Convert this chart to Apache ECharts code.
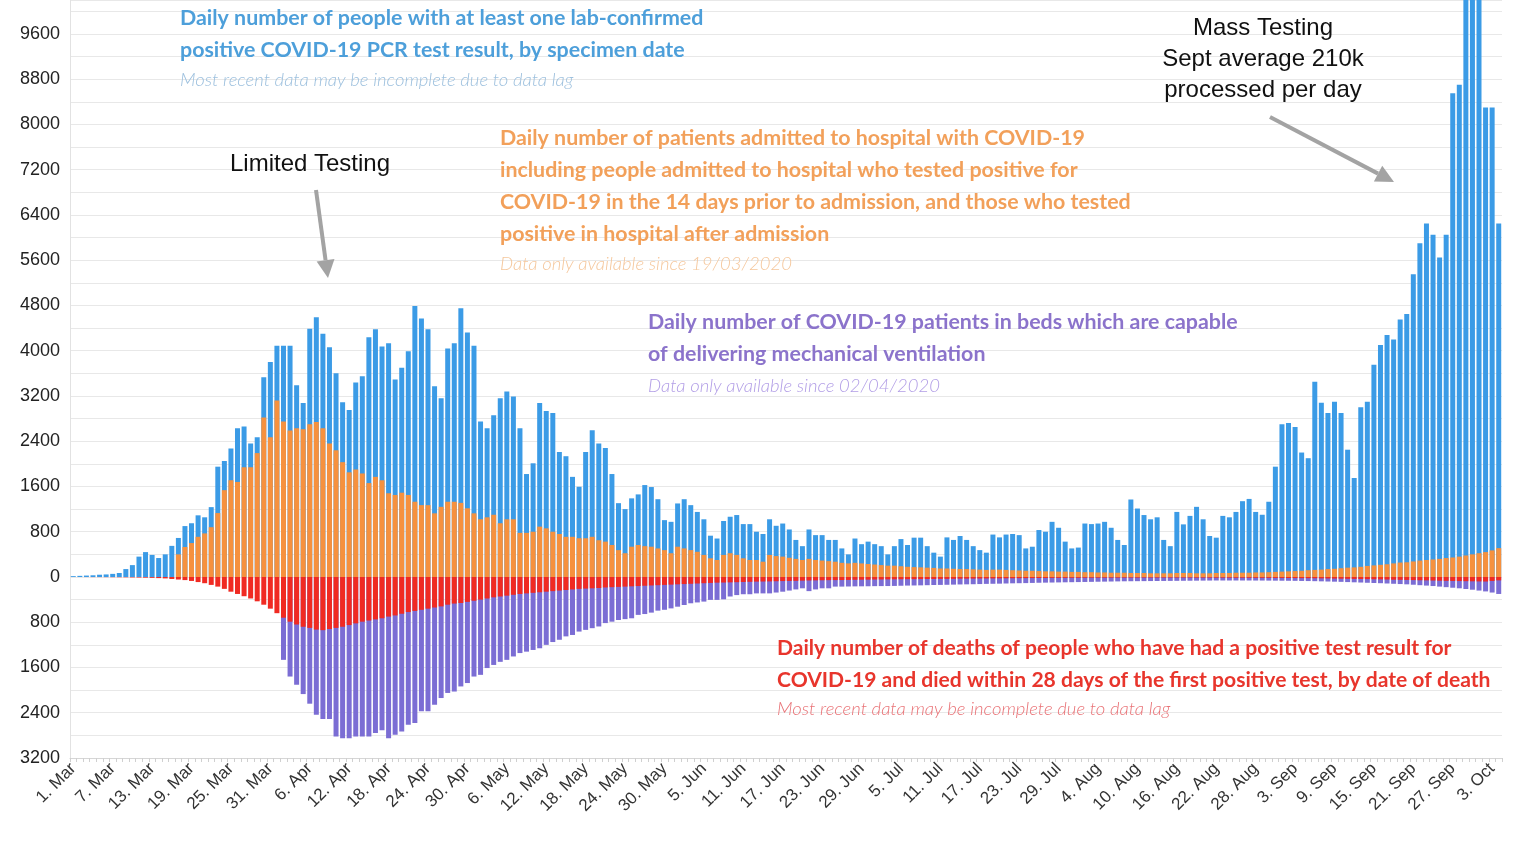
<!DOCTYPE html>
<html><head><meta charset="utf-8">
<script src="https://cdn.jsdelivr.net/npm/echarts@6/dist/echarts.min.js"></script>
<style>html,body{margin:0;padding:0;background:#fff}#c{width:1518px;height:845px}</style>
</head><body><div id="c"></div>
<script>
// ---- categories: daily from 1 Mar 2020 (218 days, to 4 Oct) ----
const startDay = {year: 2020, month: 2, day: 1};
const dayCount = 218;
const monthNames = ['Jan','Feb','Mar','Apr','May','Jun','Jul','Aug','Sep','Oct','Nov','Dec'];
const categories = [];
for (let k = 0; k < dayCount; k++) {
  const d = new Date(Date.UTC(startDay.year, startDay.month, startDay.day + k));
  categories.push(d.getUTCDate() + '. ' + monthNames[d.getUTCMonth()]);
}

// ---- Daily lab-confirmed cases (blue) ----
const cases = [
  15, 20, 25, 30, 40, 45, 55, 70,
  140, 210, 360, 440, 390, 335, 400,
  550, 690, 900, 950, 1090, 1055, 1235,
  1950, 2050, 2270, 2630, 2660, 2360, 2470,
  3530, 3800, 4090, 4090, 4090, 3390, 3075,
  4390, 4590, 4300, 4060, 3600, 3090, 2950,
  3440, 3550, 4240, 4380, 4075, 4130, 3490,
  3700, 3990, 4790, 4570, 4380, 3370, 3160,
  4040, 4130, 4750, 4320, 4090, 2750, 2630,
  2860, 3160, 3280, 3190, 2630, 1820, 2010,
  3075, 2935, 2900, 2210, 2135, 1770, 1595,
  2210, 2595, 2360, 2280, 1820, 1305, 1200,
  1390, 1460, 1625, 1590, 1375, 1005, 975,
  1300, 1375, 1270, 1150, 1020, 730, 680,
  990, 1065, 1095, 935, 935, 800, 760,
  1020, 905, 945, 840, 655, 545, 840,
  740, 740, 655, 655, 505, 400, 680,
  580, 625, 580, 545, 400, 545, 670,
  565, 695, 695, 545, 430, 360, 700,
  655, 725, 655, 545, 475, 430, 750,
  700, 750, 760, 740, 505, 535, 830,
  800, 975, 870, 625, 505, 520, 945,
  935, 945, 975, 870, 655, 565, 1370,
  1210, 1095, 1020, 1055, 655, 545, 1150,
  930, 1080, 1240, 1020, 725, 695, 1080,
  1055, 1150, 1340, 1380, 1150, 1100, 1330,
  1950, 2700, 2720, 2650, 2200, 2100, 3450,
  3080, 2900, 3100, 2900, 2250, 1750, 3000,
  3100, 3750, 4100, 4280, 4200, 4550, 4650,
  5350, 5900, 6250, 6050, 5650, 6050, 8550,
  8700, 10800, 10800, 10800, 8300, 8300, 6250
];

// ---- Daily hospital admissions (orange) ----
const admissions = [
  null, null, null, null, null, null, null, null,
  null, null, null, null, null, null, null, null,
  400, 530, 600, 710, 770, 880,
  1130, 1535, 1710, 1680, 1940, 1940, 2190,
  2820, 2470, 3120, 2750, 2590, 2630, 2610,
  2700, 2740, 2630, 2360, 2240, 2030, 1850,
  1900, 1830, 1660, 1770, 1710, 1480, 1450,
  1490, 1450, 1330, 1270, 1270, 1125, 1240,
  1330, 1330, 1310, 1215, 1125, 1020, 1055,
  1100, 950, 1020, 1020, 780, 780, 800,
  890, 860, 800, 760, 710, 710, 685,
  685, 710, 650, 625, 565, 475, 420,
  535, 565, 545, 535, 505, 475, 420,
  535, 505, 475, 445, 390, 330, 300,
  390, 420, 390, 330, 300, 300, 270,
  390, 370, 360, 340, 320, 300, 320,
  300, 290, 280, 270, 250, 240, 250,
  240, 230, 220, 210, 200, 200, 190,
  180, 175, 170, 165, 160, 150, 150,
  145, 140, 140, 135, 130, 125, 130,
  130, 125, 120, 115, 110, 110, 105,
  100, 100, 95, 95, 90, 90, 85,
  85, 80, 80, 75, 75, 75, 70,
  70, 70, 65, 65, 65, 65, 70,
  70, 70, 65, 65, 65, 70, 70,
  70, 75, 75, 75, 80, 80, 85,
  90, 95, 100, 105, 110, 120, 125,
  130, 140, 145, 155, 165, 170, 180,
  195, 205, 215, 225, 240, 255, 260,
  275, 290, 300, 310, 320, 335, 345,
  360, 380, 400, 420, 440, 470, 510
];

// ---- Patients in mechanical-ventilation beds (purple, drawn downward) ----
const ventBeds = [
  null, null, null, null, null, null, null, null,
  null, null, null, null, null, null, null, null,
  null, null, null, null, null, null, null, null,
  null, null, null, null, null, null, null, null,
  1465, 1760, 1905, 2070, 2240, 2435, 2510,
  2510, 2820, 2850, 2850, 2820, 2820, 2820,
  2760, 2710, 2850, 2790, 2730, 2610, 2580,
  2375, 2375, 2260, 2140, 2050, 2025, 1935,
  1875, 1760, 1730, 1610, 1555, 1500, 1465,
  1405, 1345, 1320, 1290, 1260, 1200, 1150,
  1110, 1050, 1025, 965, 935, 905, 875,
  815, 790, 760, 745, 730, 670, 655,
  630, 595, 580, 555, 525, 495, 465,
  450, 435, 405, 405, 395, 345, 320,
  305, 305, 290, 290, 290, 275, 260,
  240, 220, 200, 250, 220, 200, 200,
  170, 170, 168, 166, 165, 164, 162, 161,
  160, 158, 155, 152, 150, 148, 145, 142, 140, 138, 135, 132, 130, 128, 125, 122,
  120, 118, 115, 112, 110, 108, 105, 102, 100, 98, 96, 94, 92, 90, 88, 86, 84, 82, 80, 78,
  76, 75, 74, 73, 72, 71, 70, 69, 68, 67, 66, 65, 64, 63, 62, 62, 62, 62, 62, 62, 63, 63, 64,
  65, 66, 67, 68, 70, 72, 74, 77, 80, 83,
  86, 90, 94, 98, 102, 106, 110, 115, 120, 125,
  130, 137, 145, 152, 160, 170, 180, 190, 200, 212,
  225, 240, 255, 275, 300
];

// ---- Deaths within 28 days (red, drawn downward) ----
const deaths = [
  0, 0, 1, 2, 2, 3, 4, 5, 6, 8,
  10, 12, 15, 20, 25,
  35, 45, 55, 70, 90, 110, 140,
  170, 210, 260, 300, 340, 380, 430,
  490, 560, 640, 720, 790, 840, 880,
  900, 930, 940, 920, 900, 880, 850,
  820, 790, 770, 750, 730, 700, 680,
  650, 620, 600, 580, 560, 540, 520,
  490, 470, 460, 440, 420, 400, 380,
  360, 345, 330, 315, 300, 290, 280,
  270, 260, 250, 240, 230, 220, 210,
  205, 200, 195, 185, 180, 175, 170,
  165, 160, 155, 150, 145, 140, 135,
  130, 125, 120, 115, 110, 105, 100,
  98, 95, 92, 88, 85, 82, 80,
  78, 75, 72, 70, 68, 65, 62,
  60, 58, 56, 55, 54, 52, 50,
  48, 47, 45, 44, 42, 41, 40,
  39, 38, 37, 36, 35, 34, 33,
  32, 30, 29, 28, 27, 26, 25,
  24, 23, 22, 21, 20, 19, 18,
  17, 16, 15, 15, 14, 14, 13,
  13, 12, 12, 12, 11, 11, 11,
  11, 10, 10, 10, 10, 10, 10,
  10, 10, 11, 11, 11, 12, 12,
  12, 13, 13, 14, 14, 15, 15,
  16, 17, 18, 19, 20, 21, 22,
  24, 26, 28, 30, 32, 34, 36,
  38, 40, 42, 45, 48, 50, 52,
  55, 58, 60, 63, 66, 68, 70,
  72, 74, 76, 78, 80, 70, 60
];

const yMin = -3200, yMax = 10200, yStep = 400, yLabelStep = 800;

const COL = {blue:'#3b9be6', orange:'#f6913e', red:'#f02a22', purple:'#7b6dd4'};

function neg(arr){ return arr.map(v => v == null ? null : -v); }

function arrow(x1, y1, x2, y2, color) {
  const ang = Math.atan2(y2 - y1, x2 - x1);
  const L = 18, W = 9;
  const bx = x2 - L * Math.cos(ang), by = y2 - L * Math.sin(ang);
  const px = -Math.sin(ang) * W, py = Math.cos(ang) * W;
  return [
    {type:'line', shape:{x1, y1, x2: bx, y2: by}, style:{stroke: color, lineWidth: 4}, z: 100},
    {type:'polygon', shape:{points:[[x2, y2],[bx + px, by + py],[bx - px, by - py]]}, style:{fill: color}, z: 100}
  ];
}

function txt(x, y, text, font, fill, align) {
  return {type:'text', x, y, z: 100,
    style:{text, font, fill, textAlign: align || 'left', textVerticalAlign:'middle'}};
}

const titleFont = 'bold 21.4px Lato, "Open Sans", sans-serif';
const redFont = 'bold 21.1px Lato, "Open Sans", sans-serif';
const subFont = 'italic 300 18.5px Lato, "Open Sans", sans-serif';
const annFont = '24px "Liberation Sans", Arial, sans-serif';

const graphics = [
  txt(180, 18, 'Daily number of people with at least one lab-confirmed', titleFont, '#4d9fda'),
  txt(180, 50, 'positive COVID-19 PCR test result, by specimen date', titleFont, '#4d9fda'),
  txt(180, 80, 'Most recent data may be incomplete due to data lag', subFont, '#9dc0de'),

  txt(500, 138, 'Daily number of patients admitted to hospital with COVID-19', titleFont, '#f2a05a'),
  txt(500, 170, 'including people admitted to hospital who tested positive for', titleFont, '#f2a05a'),
  txt(500, 202, 'COVID-19 in the 14 days prior to admission, and those who tested', titleFont, '#f2a05a'),
  txt(500, 234, 'positive in hospital after admission', titleFont, '#f2a05a'),
  txt(500, 264, 'Data only available since 19/03/2020', subFont, '#f5c79c'),

  txt(648, 322, 'Daily number of COVID-19 patients in beds which are capable', titleFont, '#8b73cb'),
  txt(648, 354, 'of delivering mechanical ventilation', titleFont, '#8b73cb'),
  txt(648, 386, 'Data only available since 02/04/2020', subFont, '#b29ee6'),

  txt(777, 648, 'Daily number of deaths of people who have had a positive test result for', redFont, '#e8352c'),
  txt(777, 680, 'COVID-19 and died within 28 days of the first positive test, by date of death', redFont, '#e8352c'),
  txt(777, 709, 'Most recent data may be incomplete due to data lag', subFont, '#e97377'),

  txt(310, 164, 'Limited Testing', annFont, '#111', 'center'),
  txt(1263, 28, 'Mass Testing', annFont, '#111', 'center'),
  txt(1263, 59, 'Sept average 210k', annFont, '#111', 'center'),
  txt(1263, 90, 'processed per day', annFont, '#111', 'center'),
  ...arrow(316, 190, 328, 278, '#a3a3a3'),
  ...arrow(1270, 117, 1394, 182, '#a3a3a3')
];

const chart = echarts.init(document.getElementById('c'), null, {renderer:'canvas'});
const barCommon = {type:'bar', barGap:'-100%', barCategoryGap:'24%', animation:false};

chart.setOption({
  animation: false,
  backgroundColor: '#fff',
  grid: {left: 70, right: 16, top: 0, bottom: 87},
  xAxis: {
    type: 'category',
    data: categories,
    axisLine: {onZero: false, lineStyle: {color: '#d6d6d6'}},
    axisTick: {show: true, interval: 0, length: 4, lineStyle: {color: '#d0d0d0'}},
    axisLabel: {
      interval: 5, rotate: 45, margin: 8,
      fontFamily: '"Liberation Sans", Arial, sans-serif', fontSize: 17, color: '#333'
    },
    splitLine: {show: false}
  },
  yAxis: {
    type: 'value',
    min: yMin, max: yMax, interval: yStep,
    axisLine: {show: true, lineStyle: {color: '#e2e2e2'}},
    axisTick: {show: false},
    splitLine: {show: true, lineStyle: {color: '#e8e8e8', width: 1}},
    axisLabel: {
      margin: 10, fontFamily: '"Liberation Sans", Arial, sans-serif', fontSize: 18, color: '#222',
      formatter: v => (v % yLabelStep === 0 && v < yMax) ? String(Math.abs(v)) : ''
    }
  },
  series: [
    Object.assign({name:'Cases', data: cases, itemStyle:{color: COL.blue}, z: 2}, barCommon),
    Object.assign({name:'Admissions', data: admissions, itemStyle:{color: COL.orange}, z: 3}, barCommon),
    Object.assign({name:'Ventilator beds', data: neg(ventBeds), itemStyle:{color: COL.purple}, z: 2}, barCommon),
    Object.assign({name:'Deaths', data: neg(deaths), itemStyle:{color: COL.red}, z: 3}, barCommon)
  ],
  graphic: graphics
});
</script></body></html>
